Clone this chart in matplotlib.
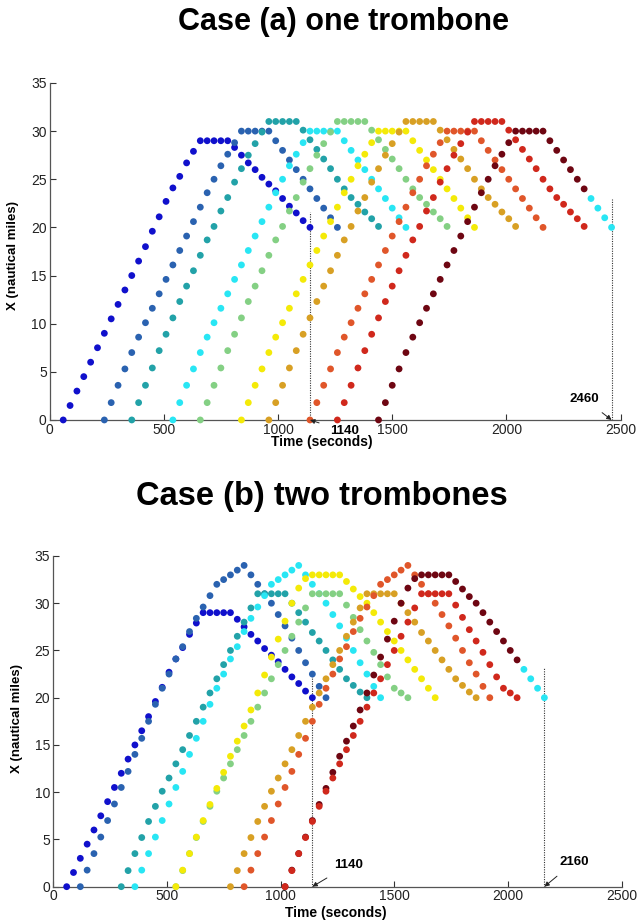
import matplotlib
matplotlib.use("Agg")
import matplotlib.pyplot as plt

plt.rcParams["font.family"] = ["Liberation Sans", "DejaVu Sans"]

STEP = 30  # seconds between two recorded positions of an aircraft

# position profiles (nautical miles), one value every STEP seconds
climb29 = [0, 1.5, 3, 4.5, 6, 7.5, 9, 10.5, 12, 13.5, 15, 16.5, 18, 19.6, 21.1,
           22.7, 24.1, 25.3, 26.7, 27.9, 29]
hold29 = [29, 29, 29, 29]
desc29 = [28.3, 27.5, 26.7, 26, 25.2, 24.5, 23.8, 23, 22.2, 21.5, 20.7, 20]

climb30 = [0, 1.8, 3.6, 5.3, 7.0, 8.6, 10.1, 11.6, 13.1, 14.6, 16.1, 17.6, 19.1,
           20.6, 22.1, 23.6, 25.0, 26.4, 27.6, 28.8, 30]
hold30 = [30, 30, 30, 30]
desc30 = [29, 28, 27, 26, 25, 24, 23, 22, 21, 20]

climb31a = [0, 1.8, 3.6, 5.4, 7.2, 8.9, 10.6, 12.3, 13.9, 15.5, 17.1, 18.7, 20.1,
            21.7, 23.1, 24.7, 26.1, 27.5, 28.7, 29.9, 31]
hold31 = [31, 31, 31, 31]
desc31a = [30.1, 29.1, 28.1, 27.1, 26.1, 25.0, 24.0, 23.1, 22.4, 21.6, 20.9, 20.1]

climb31b = [0, 1.7, 3.5, 5.2, 6.9, 8.5, 10.1, 11.5, 13.0, 14.5, 16.0, 17.5, 19.0,
            20.5, 22.0, 23.5, 25.0, 26.5, 28.0, 29.5, 31.0]
desc31b = [30, 29, 28, 26.9, 26, 25, 24, 23, 22, 21.3, 20.6, 20]
desc31c = [29.8, 28.5, 27.2, 26.0, 24.8, 23.5, 22.2, 21.0, 20.5, 20.0]

climb33 = [0, 1.75, 3.5, 5.25, 7, 8.7, 10.4, 12.1, 13.8, 15.4, 17.0, 18.7, 20.5,
           22.4, 24.3, 26.2, 28.1, 30.0, 31.6, 32.6, 33.0]
hold33 = [33, 33, 33, 33]
desc33 = [32.3, 31.5, 30.7, 30.0, 29.0, 28.0, 27.0, 26.0, 25.0, 24.0, 23.0, 22.0,
          21.0, 20.0]

climb34 = [0, 1.75, 3.5, 5.25, 7, 8.75, 10.5, 12.2, 14, 15.7, 17.5, 19.3, 21.0,
           22.5, 24.1, 25.4, 27.0, 28.4, 29.6, 30.8, 32.0, 32.5, 33.0, 33.5, 34.0]
desc34 = [33, 32, 31, 30, 28.8, 27.6, 26.3, 25, 23.7, 22.5, 21.2, 20]

profiles = {
    "29": climb29 + hold29 + desc29,
    "30": climb30 + hold30 + desc30,
    "31a": climb31a + hold31 + desc31a,
    "31b": climb31b + hold31 + desc31b,
    "31c": climb31b + hold31 + desc31c,
    "33": climb33 + hold33 + desc33,
    "34": climb34 + desc34,
}

BLUE, STEEL, TEAL, CYAN = "#1010cc", "#2a62b0", "#22a2a8", "#28e6f4"
GREEN, YELLOW, ORANGE = "#84d084", "#f4ea08", "#d8a024"
ORANGERED, RED, DARKRED = "#e0562a", "#d0281c", "#6e0612"

# case (a): one trombone
a_entry = [60, 240, 360, 540, 660, 840, 960, 1140, 1260, 1440]
a_kind = ["29", "30", "31a", "30", "31a", "30", "31a", "30", "31a", "30"]
a_color = [BLUE, STEEL, TEAL, CYAN, GREEN, YELLOW, ORANGE, ORANGERED, RED, DARKRED]
a_tail = [0, 0, 0, 0, 0, 0, 0, 0, 0, 4]  # last points drawn in cyan

# case (b): two trombones
b_entry = [60, 120, 300, 360, 540, 540, 780, 840, 1020, 1020]
b_kind = ["29", "34", "31b", "34", "31c", "33", "31b", "34", "33", "31c"]
b_color = [BLUE, STEEL, TEAL, CYAN, GREEN, YELLOW, ORANGE, ORANGERED, DARKRED, RED]
b_tail = [0, 0, 0, 0, 0, 0, 0, 0, 4, 0]

# exit markers: (time, top of dotted line, label position)
a_marks = [(1140, 21.6, (1290, -1.15)), (2460, 23.0, (2340, 2.2))]
b_marks = [(1140, 22.4, (1300, 2.3)), (2160, 23.1, (2290, 2.6))]


def draw_panel(ax, entries, kinds, colors, tails, marks):
    for t0, kind, col, tail in zip(entries, kinds, colors, tails):
        xs = profiles[kind]
        ts = [t0 + STEP * k for k in range(len(xs))]
        cols = [col] * len(xs)
        if tail:
            cols[-tail:] = [CYAN] * tail
        ax.scatter(ts, xs, s=24, c=cols, linewidths=0, clip_on=False, zorder=3)

    for t, top, txt in marks:
        ax.plot([t, t], [0, top], color="#333333", lw=0.8,
                linestyle=(0, (1, 1.2)), zorder=2)
        ax.annotate(str(t), xy=(t, 0), xytext=txt, textcoords="data",
                    ha="center", va="center", fontsize=9.5, fontweight="bold",
                    annotation_clip=False,
                    arrowprops=dict(arrowstyle="-|>", lw=0.7, color="#222222",
                                    mutation_scale=7, shrinkA=6, shrinkB=0))

    ax.set_xlim(0, 2500)
    ax.set_ylim(0, 35)
    ax.set_xticks(range(0, 2501, 500))
    ax.set_yticks(range(0, 36, 5))
    ax.tick_params(direction="in", length=4, width=0.8, labelsize=10,
                   colors="#333333", labelcolor="#222222", pad=2)
    for side in ("top", "right"):
        ax.spines[side].set_visible(False)
    for side in ("left", "bottom"):
        ax.spines[side].set_color("#555555")
        ax.spines[side].set_linewidth(0.9)


fig = plt.figure(figsize=(6.38, 9.24), dpi=100)

ax_a = fig.add_axes([0.0776, 0.5455, 0.8953, 0.3647])
draw_panel(ax_a, a_entry, a_kind, a_color, a_tail, a_marks)
ax_a.text(0.477, -0.066, "Time (seconds)", transform=ax_a.transAxes,
          ha="center", va="center", fontsize=10, fontweight="bold")
ax_a.text(-0.064, 0.487, "X (nautical miles)", transform=ax_a.transAxes,
          ha="center", va="center", rotation=90, fontsize=9.5, fontweight="bold")

ax_b = fig.add_axes([0.0831, 0.0404, 0.8914, 0.3579])
draw_panel(ax_b, b_entry, b_kind, b_color, b_tail, b_marks)
ax_b.text(0.4976, -0.0795, "Time (seconds)", transform=ax_b.transAxes,
          ha="center", va="center", fontsize=10, fontweight="bold")
ax_b.text(-0.063, 0.51, "X (nautical miles)", transform=ax_b.transAxes,
          ha="center", va="center", rotation=90, fontsize=9.5, fontweight="bold")

fig.text(343 / 638, 1 - 22 / 924, "Case (a) one trombone", ha="center",
         va="center", fontsize=22, fontweight="bold")
fig.text(322 / 638, 1 - 496 / 924, "Case (b) two trombones", ha="center",
         va="center", fontsize=23.5, fontweight="bold")

fig.savefig("out.png", dpi=100)
plt.close(fig)
